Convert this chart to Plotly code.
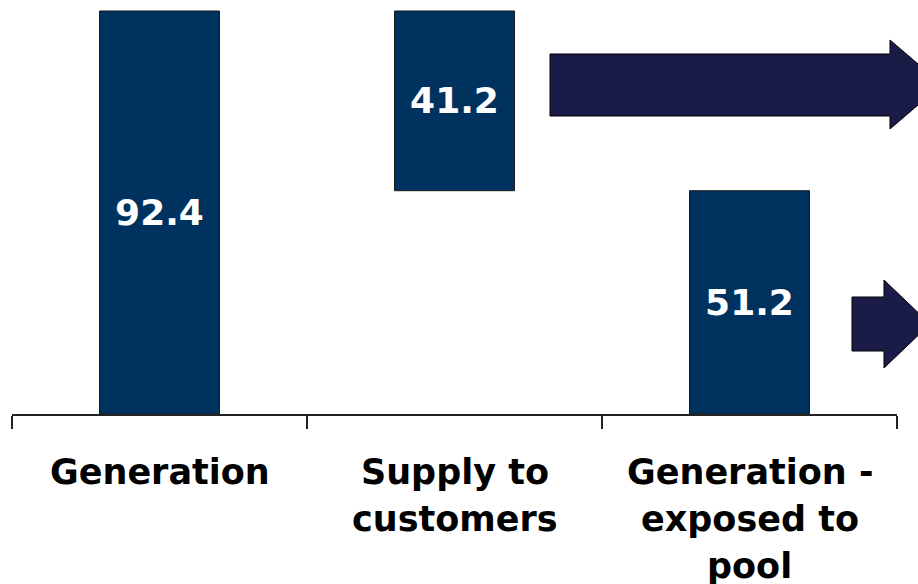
import plotly.graph_objects as go

# ---- data ----
categories = ["Generation", "Supply to<br>customers", "Generation -<br>exposed to<br>pool"]
generation = 92.4
supply_to_customers = 41.2
exposed_to_pool = 51.2
values = [generation, supply_to_customers, exposed_to_pool]
bases = [0, generation - supply_to_customers, 0]
value_labels = [f"{v:.1f}" for v in values]

# ---- style ----
W, H = 918, 584
ML, MR, MT, MB = 12, 21, 0, 170
BAR_COLOR = "#00325F"
ARROW_COLOR = "#1B1B47"
FONT = "DejaVu Sans, Verdana, sans-serif"
LABEL_FIRST_LINE_PX = 472
LABEL_LINE_STEP_PX = 47

def px_x(p):
    return (p - ML) / (W - ML - MR)

def px_y(p):
    return (H - MB - p) / (H - MT - MB)

def arrow_path(x0, body_top, body_bot, head_x, head_top, head_bot, tip_x):
    cy = (head_top + head_bot) / 2
    pts = [(x0, body_top), (head_x, body_top), (head_x, head_top), (tip_x, cy),
           (head_x, head_bot), (head_x, body_bot), (x0, body_bot)]
    return "M " + " L ".join(f"{px_x(a):.5f},{px_y(b):.5f}" for a, b in pts) + " Z"

fig = go.Figure(go.Bar(
    x=categories, y=values, base=bases,
    marker=dict(color=BAR_COLOR, line=dict(color="#1a1a1a", width=1)),
    text=value_labels, textposition="inside", insidetextanchor="middle",
    textfont=dict(family=FONT, size=36, color="white", weight="bold"),
    textangle=0, cliponaxis=False, hoverinfo="skip",
))

fig.add_shape(type="path", xref="paper", yref="paper",
              path=arrow_path(550, 54, 116, 890, 40, 129, 942),
              fillcolor=ARROW_COLOR, line=dict(color="black", width=1), layer="above")
fig.add_shape(type="path", xref="paper", yref="paper",
              path=arrow_path(852, 297, 351, 884, 280, 368, 930),
              fillcolor=ARROW_COLOR, line=dict(color="black", width=1), layer="above")

# category labels, one annotation per line for exact line spacing
for cat in categories:
    for i, line in enumerate(cat.split("<br>")):
        fig.add_annotation(
            x=cat, xref="x", y=px_y(LABEL_FIRST_LINE_PX + i * LABEL_LINE_STEP_PX), yref="paper",
            text=line, showarrow=False, xanchor="center", yanchor="middle",
            font=dict(family=FONT, size=35, color="black", weight="bold"),
        )

fig.update_layout(
    width=W, height=H,
    margin=dict(l=ML, r=MR, t=MT, b=MB, autoexpand=False),
    paper_bgcolor="white", plot_bgcolor="white",
    bargap=1 - 120 / 295,
    showlegend=False,
)
fig.update_xaxes(
    type="category", tickson="boundaries", ticks="outside", ticklen=13,
    tickcolor="#222", tickwidth=1.5, showline=True, linecolor="#222", linewidth=1.5,
    showticklabels=False, showgrid=False, fixedrange=True,
)
fig.update_yaxes(range=[0, 94.92], visible=False, showgrid=False, fixedrange=True)

fig.write_html("out.html")
